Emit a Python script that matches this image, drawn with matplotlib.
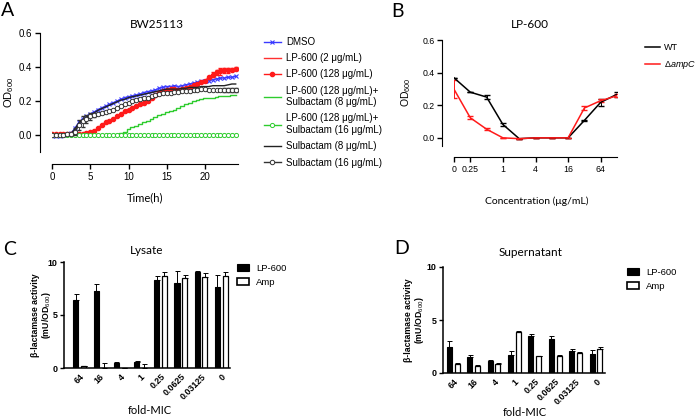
import numpy as np
import matplotlib
matplotlib.use("Agg")
import matplotlib.pyplot as plt
from matplotlib.patches import Patch

plt.rcParams['font.family'] = ['Liberation Sans', 'DejaVu Sans']
plt.rcParams['mathtext.fontset'] = 'custom'
plt.rcParams['mathtext.rm'] = 'Liberation Sans'
plt.rcParams['mathtext.it'] = 'Liberation Sans:italic'

W, H = 698, 418

# ---------------- Panel A data (OD600 vs time, every 0.5 h) ----------------
time_h = [0, 0.5, 1, 1.5, 2, 2.5, 3, 3.5, 4, 4.5, 5, 5.5, 6, 6.5, 7, 7.5, 8, 8.5, 9, 9.5,
          10, 10.5, 11, 11.5, 12, 12.5, 13, 13.5, 14, 14.5, 15, 15.5, 16, 16.5, 17, 17.5,
          18, 18.5, 19, 19.5, 20, 20.5, 21, 21.5, 22, 22.5, 23, 23.5, 24]
dmso = [-0.005, -0.005, -0.003, 0.0, 0.003, 0.01, 0.04, 0.075, 0.095, 0.11, 0.125, 0.135,
        0.15, 0.16, 0.17, 0.18, 0.19, 0.2, 0.21, 0.22, 0.225, 0.23, 0.235, 0.24, 0.25, 0.255,
        0.26, 0.265, 0.275, 0.28, 0.285, 0.285, 0.29, 0.285, 0.29, 0.295, 0.3, 0.305, 0.31,
        0.315, 0.32, 0.32, 0.325, 0.33, 0.335, 0.335, 0.34, 0.34, 0.345]
lp_2 = [0.0, 0.0, 0.0, 0.0, 0.0, 0.0, 0.0, 0.0, 0.0, 0.0, 0.0, 0.0, 0.0, 0.0, 0.0, 0.0,
        0.0, 0.0, 0.0, 0.0, 0.0, 0.0, 0.0, 0.0, 0.0, 0.0, 0.0, 0.0, 0.0, 0.0, 0.0, 0.0,
        0.0, 0.0, 0.0, 0.0, 0.0, 0.0, 0.0, 0.0, 0.0, 0.0, 0.0, 0.0, 0.0, 0.0, 0.0, 0.0, 0.0]
lp_128 = [0.003, 0.003, 0.004, 0.004, 0.005, 0.005, 0.005, 0.005, 0.006, 0.01, 0.015, 0.025,
          0.04, 0.06, 0.075, 0.085, 0.095, 0.11, 0.125, 0.14, 0.15, 0.16, 0.17, 0.18, 0.19,
          0.2, 0.215, 0.235, 0.25, 0.26, 0.265, 0.27, 0.27, 0.265, 0.27, 0.275, 0.285, 0.295,
          0.3, 0.31, 0.32, 0.34, 0.355, 0.37, 0.375, 0.38, 0.38, 0.385, 0.39]
lp_128_err = [0, 0, 0, 0, 0, 0, 0, 0, 0, 0, 0, 0, 0, 0, 0, 0, 0, 0, 0, 0, 0, 0, 0, 0, 0,
              0, 0, 0, 0, 0, 0, 0, 0, 0, 0, 0, 0, 0, 0, 0, 0, 0.01, 0.015, 0.015, 0.02,
              0.015, 0.015, 0.01, 0.008]
lp_sul8 = [0.0, 0.0, 0.0, 0.0, 0.0, 0.0, 0.0, 0.0, 0.0, 0.0, 0.0, 0.0, 0.0, 0.0, 0.0, 0.0,
           0.0, 0.003, 0.01, 0.02, 0.035, 0.045, 0.055, 0.065, 0.075, 0.085, 0.095, 0.105,
           0.115, 0.125, 0.135, 0.14, 0.15, 0.16, 0.17, 0.18, 0.19, 0.2, 0.205, 0.21, 0.215,
           0.22, 0.22, 0.225, 0.23, 0.23, 0.23, 0.235, 0.235]
lp_sul16 = [0.0, 0.0, 0.0, 0.0, 0.0, 0.0, 0.0, 0.0, 0.0, 0.0, 0.0, 0.0, 0.0, 0.0, 0.0, 0.0,
            0.0, 0.0, 0.0, 0.0, 0.0, 0.0, 0.0, 0.0, 0.0, 0.0, 0.0, 0.0, 0.0, 0.0, 0.0, 0.0,
            0.0, 0.0, 0.0, 0.0, 0.0, 0.0, 0.0, 0.0, 0.0, 0.0, 0.0, 0.0, 0.0, 0.0, 0.0, 0.0, 0.0]
sul8 = [0.0, 0.0, 0.0, 0.0, 0.003, 0.01, 0.035, 0.07, 0.09, 0.105, 0.12, 0.13, 0.145, 0.155,
        0.165, 0.175, 0.185, 0.195, 0.205, 0.21, 0.22, 0.225, 0.23, 0.235, 0.24, 0.245, 0.25,
        0.255, 0.26, 0.265, 0.27, 0.27, 0.27, 0.27, 0.275, 0.275, 0.28, 0.28, 0.28, 0.285,
        0.285, 0.285, 0.29, 0.29, 0.29, 0.29, 0.295, 0.3, 0.3]
sul16 = [0.0, 0.0, 0.0, 0.0, 0.003, 0.005, 0.02, 0.06, 0.08, 0.095, 0.11, 0.115, 0.125, 0.13,
         0.135, 0.14, 0.15, 0.16, 0.17, 0.18, 0.19, 0.2, 0.205, 0.21, 0.215, 0.22, 0.23, 0.235,
         0.24, 0.245, 0.25, 0.25, 0.255, 0.255, 0.26, 0.26, 0.26, 0.265, 0.265, 0.27, 0.27,
         0.265, 0.265, 0.265, 0.265, 0.265, 0.265, 0.265, 0.265]
sul16_err = [0, 0, 0, 0, 0, 0.005, 0.02, 0.03, 0.03, 0.025, 0.02, 0.01, 0.005, 0, 0, 0, 0,
             0, 0, 0, 0, 0, 0, 0, 0, 0, 0, 0, 0, 0, 0, 0, 0, 0, 0, 0, 0, 0, 0, 0, 0, 0, 0,
             0, 0.008, 0.01, 0.01, 0.012, 0.01]

# ---------------- Panel B data ----------------
conc_labels = ['0', '0.25', '0.5', '1', '2', '4', '8', '16', '32', '64', '128']
wt_od = [0.368, 0.28, 0.25, 0.082, -0.005, 0.0, 0.0, 0.0, 0.107, 0.218, 0.267]
wt_err = [0.0, 0.0, 0.01, 0.01, 0.0, 0.0, 0.0, 0.0, 0.005, 0.02, 0.015]
ampc_od = [0.298, 0.123, 0.053, 0.0, -0.005, 0.0, 0.0, 0.0, 0.183, 0.228, 0.258]
ampc_err = [0.055, 0.01, 0.005, 0.0, 0.0, 0.0, 0.0, 0.0, 0.01, 0.01, 0.01]

# ---------------- Panel C / D data ----------------
fold_mic = ['64', '16', '4', '1', '0.25', '0.0625', '0.03125', '0']
lys_lp = [6.45, 7.3, 0.48, 0.6, 8.28, 8.05, 9.05, 7.6]
lys_lp_err = [0.5, 0.6, 0.12, 0.05, 0.4, 1.1, 0.1, 1.2]
lys_amp = [0.15, 0.0, 0.0, 0.0, 8.72, 8.5, 8.62, 8.72]
lys_amp_err = [0.05, 0.47, 0.0, 0.4, 0.35, 0.3, 0.35, 0.3]
sup_lp = [2.5, 1.54, 1.1, 1.7, 3.52, 3.24, 2.1, 1.76]
sup_lp_err = [0.55, 0.2, 0.1, 0.34, 0.16, 0.22, 0.2, 0.38]
sup_amp = [0.88, 0.69, 0.88, 3.87, 1.6, 1.6, 1.86, 2.27]
sup_amp_err = [0.09, 0.03, 0.09, 0.06, 0.03, 0.1, 0.15, 0.15]


def box(l, t, r, b):
    return [l / W, 1 - b / H, (r - l) / W, (b - t) / H]


def fx(x):
    return x / W


def fy(y):
    return 1 - y / H


fig = plt.figure(figsize=(W / 100, H / 100), dpi=100)
title_font = ['Lato', 'DejaVu Sans']

# ================= Panel A =================
ax = fig.add_axes(box(52, 33, 238, 152))
lw = 1.0
h1, = ax.plot(time_h, dmso, color='#3a3aff', lw=lw, marker='x', ms=3.2, mew=0.8, label='DMSO')
h2, = ax.plot(time_h, lp_2, color='#ff3030', lw=lw, label='LP-600 (2 μg/mL)')
ax.errorbar(time_h, lp_128, yerr=lp_128_err, fmt='none', ecolor='#ff1a1a', elinewidth=0.6,
            capsize=1.5)
h3, = ax.plot(time_h, lp_128, color='#ff1a1a', lw=lw, marker='o', ms=3,
              label='LP-600 (128 μg/mL)')
h4, = ax.plot(time_h, lp_sul8, color='#2ecc2e', lw=lw, drawstyle='steps-mid',
              label='LP-600 (128 μg/mL)+\nSulbactam (8 μg/mL)')
h5, = ax.plot(time_h, lp_sul16, color='#2ecc2e', lw=lw, marker='o', ms=3, mfc='white', mew=0.7,
              label='LP-600 (128 μg/mL)+\nSulbactam (16 μg/mL)')
h6, = ax.plot(time_h, sul8, color='#222222', lw=lw, label='Sulbactam (8 μg/mL)')
ax.errorbar(time_h, sul16, yerr=sul16_err, fmt='none', ecolor='#333333', elinewidth=0.6,
            capsize=1.5)
h7, = ax.plot(time_h, sul16, color='#333333', lw=lw, marker='o', ms=3.2, mfc='white', mew=0.7,
              label='Sulbactam (16 μg/mL)')
ax.set_xlim(0, 24.3)
ax.set_ylim(-0.1, 0.6)
ax.set_xticks([0, 5, 10, 15, 20])
ax.set_yticks([0.0, 0.2, 0.4, 0.6])
ax.set_yticklabels(['0.0', '0.2', '0.4', '0.6'])
for s in ['top', 'right']:
    ax.spines[s].set_visible(False)
ax.spines['left'].set_position(('outward', 8.6))
ax.spines['bottom'].set_position(('outward', 8.6))
ax.spines['left'].set_bounds(-0.1, 0.6)
ax.spines['bottom'].set_bounds(0, 24.3)
ax.tick_params(labelsize=7, length=3.5, width=1, pad=2)
ax.legend(handles=[h1, h2, h3, h4, h5, h6, h7], loc='upper left',
          bbox_to_anchor=(fx(264), fy(37)), bbox_transform=fig.transFigure,
          frameon=False, fontsize=7, borderpad=0, borderaxespad=0, handlelength=1.7,
          handletextpad=0.55, labelspacing=0.64)
fig.text(fx(157), fy(24), 'BW25113', ha='center', va='center', fontsize=8.5, family=title_font)
fig.text(fx(145), fy(198), 'Time(h)', ha='center', va='center', fontsize=8, family=title_font)
fig.text(fx(9), fy(92), 'OD$_{600}$', ha='center', va='center', rotation=90, fontsize=8)
fig.text(fx(1), fy(2), 'A', ha='left', va='top', fontsize=14, family=title_font)

# ================= Panel B =================
ax = fig.add_axes(box(454, 40, 617, 146))
xb = np.arange(len(conc_labels))
ax.errorbar(xb, wt_od, yerr=wt_err, fmt='none', ecolor='black', elinewidth=0.7, capsize=2)
ax.errorbar(xb, ampc_od, yerr=ampc_err, fmt='none', ecolor='#ff1a1a', elinewidth=0.7,
            capsize=2)
hw, = ax.plot(xb, wt_od, color='black', lw=1.1, label='WT')
ha, = ax.plot(xb, ampc_od, color='#ff1a1a', lw=1.1, label=r'$\Delta ampC$')
ax.set_xlim(0, 10)
ax.set_ylim(-0.05, 0.6)
ax.set_xticks([0, 1, 3, 5, 7, 9])
ax.set_xticklabels([conc_labels[i] for i in [0, 1, 3, 5, 7, 9]], rotation=45, ha='right',
                   rotation_mode='anchor', fontweight='bold')
ax.set_yticks([0.0, 0.2, 0.4, 0.6])
ax.set_yticklabels(['0.0', '0.2', '0.4', '0.6'], fontweight='bold')
for s in ['top', 'right']:
    ax.spines[s].set_visible(False)
ax.spines['left'].set_position(('outward', 8.6))
ax.spines['bottom'].set_position(('outward', 8))
ax.tick_params(labelsize=6.3, length=3.5, width=1, pad=2)
ax.legend(handles=[hw, ha], loc='upper left', bbox_to_anchor=(fx(645), fy(43)),
          bbox_transform=fig.transFigure, frameon=False, fontsize=6.5, borderpad=0,
          borderaxespad=0, handlelength=1.7, handletextpad=0.35, labelspacing=0.8)
fig.text(fx(530), fy(25), 'LP-600', ha='center', va='center', fontsize=8.5, family=title_font)
fig.text(fx(537), fy(201), 'Concentration (μg/mL)', ha='center', va='center', fontsize=7.5,
         family=title_font)
fig.text(fx(406), fy(92), 'OD$_{600}$', ha='center', va='center', rotation=90, fontsize=7.5)
fig.text(fx(391), fy(3), 'B', ha='left', va='top', fontsize=14, family=title_font)


# ================= Panels C and D =================
def bar_panel(rect, lp, lp_err, amp, amp_err, xlim, title, title_xy, lab_xy, ylab_xy,
              letter, letter_xy, leg_xy):
    ax = fig.add_axes(rect)
    xg = np.arange(len(fold_mic))
    off, bw = 0.19, 0.25
    zeros = [0] * len(lp)
    ax.bar(xg - off, lp, width=bw, color='black', edgecolor='black', lw=0.8)
    ax.errorbar(xg - off, lp, yerr=[zeros, lp_err], fmt='none', ecolor='black',
                elinewidth=0.7, capsize=1.8, capthick=0.7)
    ax.bar(xg + off, amp, width=bw, color='white', edgecolor='black', lw=0.9)
    ax.errorbar(xg + off, amp, yerr=[zeros, amp_err], fmt='none', ecolor='black',
                elinewidth=0.7, capsize=1.8, capthick=0.7)
    ax.set_xlim(*xlim)
    ax.set_ylim(0, 10)
    ax.set_yticks([0, 5, 10])
    ax.set_yticklabels(['0', '5', '10'], fontweight='bold')
    ax.set_xticks(xg)
    ax.set_xticklabels(fold_mic, rotation=45, ha='right', rotation_mode='anchor',
                       fontweight='bold')
    for s in ['top', 'right']:
        ax.spines[s].set_visible(False)
    ax.spines['left'].set_linewidth(1.1)
    ax.spines['bottom'].set_linewidth(1.1)
    ax.tick_params(labelsize=6.4, length=3, width=1, pad=1.5)
    ax.tick_params(axis='x', length=0, pad=3)
    handles = [Patch(facecolor='black', edgecolor='black', lw=0.8),
               Patch(facecolor='white', edgecolor='black', lw=1.2)]
    ax.legend(handles, ['LP-600', 'Amp'], loc='upper left', bbox_to_anchor=leg_xy,
              bbox_transform=fig.transFigure, frameon=False, fontsize=6.8, borderpad=0,
              borderaxespad=0, handlelength=1.3, handleheight=0.8, handletextpad=0.7,
              labelspacing=0.5)
    fig.text(*title_xy, title, ha='center', va='center', fontsize=8.5, family=title_font)
    fig.text(*lab_xy, 'fold-MIC', ha='center', va='center', fontsize=8, family=title_font)
    fig.text(*ylab_xy, 'β-lactamase activity\n(mU/OD$_{600}$)', ha='center', va='center',
             rotation=90, fontsize=6.3, fontweight='bold', linespacing=1.1)
    fig.text(*letter_xy, letter, ha='left', va='top', fontsize=14, family=title_font)


bar_panel(box(64, 262, 230, 368), lys_lp, lys_lp_err, lys_amp, lys_amp_err, (-0.78, 7.43),
          'Lysate', (fx(147), fy(251)), (fx(150), fy(411)), (fx(42), fy(315)),
          'C', (fx(3), fy(241)), (fx(237), fy(264)))
bar_panel(box(443, 267, 605, 373), sup_lp, sup_lp_err, sup_amp, sup_amp_err, (-0.5, 7.44),
          'Supernatant', (fx(531), fy(252)), (fx(525), fy(413)), (fx(415), fy(320)),
          'D', (fx(394), fy(240)), (fx(627), fy(268)))

plt.savefig('out.png', dpi=100)
plt.close()
